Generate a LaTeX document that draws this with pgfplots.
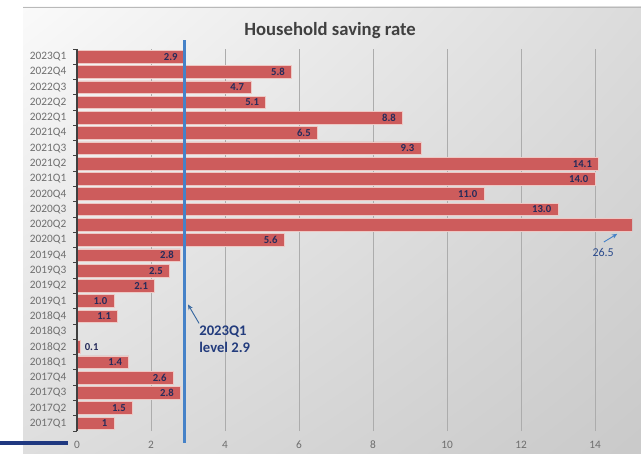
\documentclass[border=0pt]{standalone}
\usepackage{fontspec}
\setmainfont{Carlito}
\usepackage{pgfplots}
\pgfplotsset{compat=1.18}
\usepackage{pgfplotstable}
\usetikzlibrary{arrows.meta,shadings}
\definecolor{barred}{RGB}{205,92,92}
\definecolor{baredge}{RGB}{238,200,196}
\definecolor{lineblue}{RGB}{70,130,200}
\definecolor{labnavy}{RGB}{38,43,90}
\definecolor{annblue}{RGB}{35,60,125}
\definecolor{decnavy}{RGB}{31,56,128}
\definecolor{tickgray}{RGB}{110,110,110}
\definecolor{titlegray}{RGB}{64,64,64}

\pgfplotstableread{
idx val lab
0 1.0 1
1 1.5 1.5
2 2.8 2.8
3 2.6 2.6
4 1.4 1.4
5 0.1 {}
7 1.1 1.1
8 1.0 1.0
9 2.1 2.1
10 2.5 2.5
11 2.8 2.8
12 5.6 5.6
13 26.5 {}
14 13.0 13.0
15 11.0 11.0
16 14.0 14.0
17 14.1 14.1
18 9.3 9.3
19 6.5 6.5
20 8.8 8.8
21 5.1 5.1
22 4.7 4.7
23 5.8 5.8
24 2.9 2.9
}\savingdata

\begin{document}
\begin{tikzpicture}
\useasboundingbox (0pt,0pt) rectangle (480.75pt,339.75pt);
\fill[white] (0pt,0pt) rectangle (480.75pt,339.75pt);
\shade[upper left=gray!4, upper right=gray!28, lower left=gray!26, lower right=gray!42]
  (17.25pt,0pt) rectangle (480.75pt,334.5pt);
\draw[gray!55, line width=0.6pt] (17.25pt,334.5pt) -- (480.75pt,334.5pt);
\draw[decnavy, line width=2.5pt] (0pt,7.6pt) -- (51pt,7.6pt);
\node[font=\bfseries\fontsize{14}{16}\selectfont, text=titlegray] at (247.5pt,316.5pt) {Household saving rate};

\begin{axis}[
  at={(57.75pt,16.5pt)}, anchor=south west,
  scale only axis, width=416.25pt, height=286.5pt,
  xmin=0, xmax=15, ymin=-0.5, ymax=24.5,
  xbar, bar width=9.5pt,
  axis lines*=left,
  x axis line style={draw=none},
  y axis line style={black!75, line width=0.8pt},
  xtick={0,2,...,14},
  ytick={0,...,24},
  yticklabels={2017Q1,2017Q2,2017Q3,2017Q4,2018Q1,2018Q2,2018Q3,2018Q4,2019Q1,2019Q2,2019Q3,2019Q4,2020Q1,2020Q2,2020Q3,2020Q4,2021Q1,2021Q2,2021Q3,2021Q4,2022Q1,2022Q2,2022Q3,2022Q4,2023Q1},
  minor ytick={-0.5,0.5,...,24.5},
  major tick length=0pt,
  minor tick length=3pt,
  tick align=outside,
  minor tick style={black!75, line width=0.7pt},
  xmajorgrids,
  major grid style={gray!65, line width=0.6pt},
  /pgf/number format/assume math mode=true,
  tick label style={font=\fontsize{8.5}{9}\selectfont, text=tickgray},
  xticklabel style={yshift=-4pt},
  yticklabel style={xshift=-4.5pt},
  point meta=explicit symbolic,
  nodes near coords,
  nodes near coords style={anchor=east, xshift=-1.5pt, font=\bfseries\fontsize{8}{8}\selectfont, text=labnavy},
]
\addplot[fill=barred, draw=baredge, line width=0.5pt] table[x=val, y=idx, meta=lab] {\savingdata};
\coordinate (ybot) at (axis cs:0,-0.5);
\coordinate (ytop) at (axis cs:0,24.5);
\coordinate (vtop) at (axis cs:2.9,25.09);
\coordinate (vbot) at (axis cs:2.9,-1.28);
\coordinate (atail) at (axis cs:3.30,6.54);
\coordinate (ahead) at (axis cs:3.0,7.78);
\coordinate (atext) at (axis cs:3.30,6.37);
\coordinate (btail) at (axis cs:14.24,11.87);
\coordinate (bhead) at (axis cs:14.60,12.40);
\coordinate (btext) at (axis cs:14.22,11.21);
\coordinate (ctext) at (axis cs:0.15,5);
\end{axis}

\draw[black!75, line width=0.8pt] (ybot) -- (ytop);
\draw[lineblue, line width=2.2pt] (vbot) -- (vtop);
\draw[-{Stealth[length=4pt,width=3.5pt]}, lineblue!80!black, line width=0.7pt] (atail) -- (ahead);
\node[anchor=north west, inner sep=0pt, align=left, font=\bfseries\fontsize{11}{12.5}\selectfont, text=annblue] at (atext) {2023Q1\\level 2.9};
\draw[-{Stealth[length=4pt,width=3.5pt]}, lineblue, line width=0.7pt] (btail) -- (bhead);
\node[font=\fontsize{9}{10}\selectfont, text=annblue!80!lineblue] at (btext) {26.5};
\node[anchor=west, inner sep=1.5pt, font=\bfseries\fontsize{8}{8}\selectfont, text=labnavy] at (ctext) {0.1};
\end{tikzpicture}
\end{document}
